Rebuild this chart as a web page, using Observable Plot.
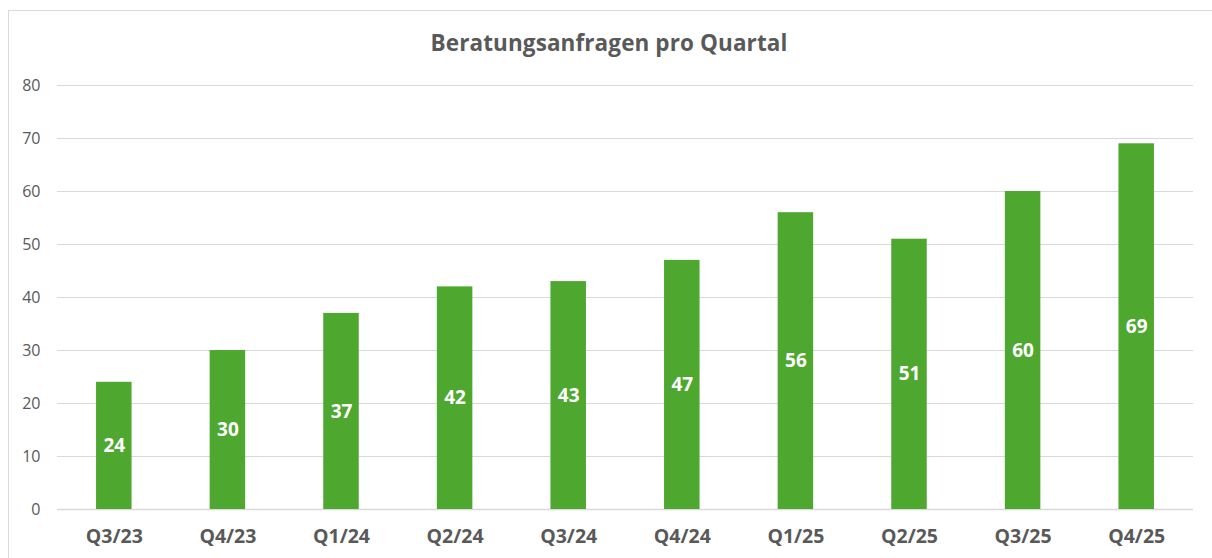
<!DOCTYPE html>
<html>
<head>
<meta charset="utf-8">
<script src="https://cdn.jsdelivr.net/npm/d3@7"></script>
<script src="https://cdn.jsdelivr.net/npm/@observablehq/plot@0.6"></script>
<style>
  html, body { margin: 0; padding: 0; background: #fff; }
  #wrap { position: relative; width: 1212px; height: 558px; overflow: hidden; }
  #frame { position: absolute; left: 8px; top: 10px; width: 1300px; height: 700px; border: 1px solid #d9d9d9; box-sizing: border-box; }
  #title { position: absolute; left: 0; top: 27px; width: 1218px; text-align: center; font-family: "Open Sans", sans-serif; font-weight: bold; font-size: 22.5px; color: #595959; letter-spacing: 0.1px; }
  #chart { position: absolute; left: 0; top: 0; }
</style>
</head>
<body>
<div id="wrap">
  <div id="frame"></div>
  <div id="title">Beratungsanfragen pro Quartal</div>
  <div id="chart"></div>
</div>
<script>
const quarters = ["Q3/23","Q4/23","Q1/24","Q2/24","Q3/24","Q4/24","Q1/25","Q2/25","Q3/25","Q4/25"];
const requests = [24,30,37,42,43,47,56,51,60,69];
const yTicks = [0,10,20,30,40,50,60,70,80];

const data = quarters.map((q, i) => ({quarter: q, value: requests[i]}));

const plot = Plot.plot({
  width: 1212,
  height: 558,
  marginLeft: 57,
  marginRight: 19,
  marginTop: 85,
  marginBottom: 49,
  style: {fontFamily: "'Open Sans', sans-serif", background: "transparent", overflow: "visible"},
  x: {domain: quarters, paddingInner: 0.6875, paddingOuter: 0.34375, round: false, label: null},
  y: {domain: [0, 80], label: null},
  marks: [
    Plot.gridY(yTicks.filter(t => t > 0), {stroke: "#d9d9d9", strokeOpacity: 1, strokeWidth: 1}),
    Plot.ruleY([0], {stroke: "#d9d9d9", strokeWidth: 1.5}),
    Plot.barY(data, {x: "quarter", y: "value", fill: "#4ea72e"}),
    Plot.text(data, {x: "quarter", y: d => d.value / 2, text: d => String(d.value), fill: "white", fontWeight: "bold", fontSize: 19}),
    Plot.axisY(yTicks, {tickSize: 0, tickPadding: 17, fontSize: 16, fill: "#595959", label: null}),
    Plot.axisX({tickSize: 0, tickPadding: 20, fontSize: 19.5, fontWeight: "bold", fill: "#595959", label: null})
  ]
});
document.getElementById("chart").appendChild(plot);
</script>
</body>
</html>
